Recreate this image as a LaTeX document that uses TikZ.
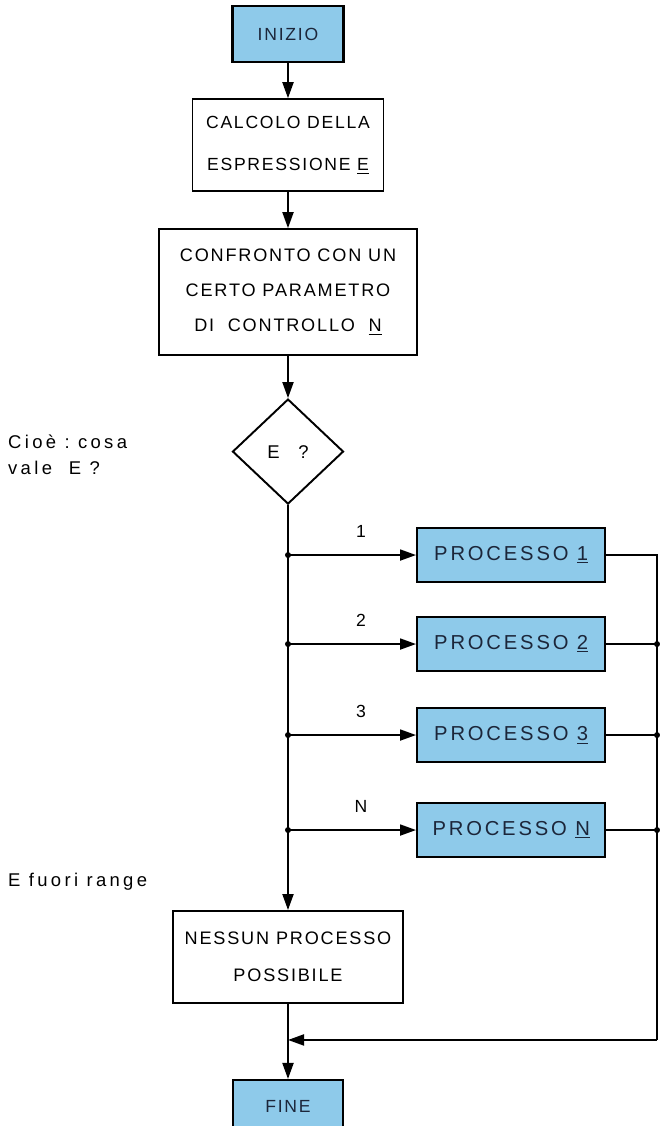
\documentclass[tikz,border=0pt]{standalone}
\usepackage{fontspec}
\setmainfont{Liberation Sans}
\newfontfamily\flowfont{Liberation Sans}[LetterSpace=10]
\newfontfamily\procfont{Liberation Sans}[LetterSpace=14]
\newfontfamily\notefont{Liberation Sans}[LetterSpace=18]
\usepackage{tikz}
\usetikzlibrary{shapes.geometric, arrows.meta, positioning, calc}
\definecolor{procblue}{RGB}{142,202,234}
\definecolor{inkblue}{RGB}{28,38,58}

\begin{document}
\begin{tikzpicture}[
    node distance=0.7cm and 1.2cm,
    box/.style={rectangle, draw=black, line width=1.1pt, fill=white, align=center, inner sep=2pt, font=\flowfont\fontsize{10}{20}\selectfont},
    termbox/.style={box, fill=procblue, text=inkblue, line width=1.4pt},
    procbox/.style={termbox, minimum width=3.76cm, minimum height=1.08cm, font=\procfont\fontsize{11.5}{13}\selectfont},
    testnode/.style={diamond, draw=black, line width=1.1pt, minimum width=2.22cm, minimum height=2.1cm, inner sep=0pt, font=\flowfont\fontsize{10.5}{12}\selectfont},
    line/.style={line width=1.1pt},
    arrow/.style={line, -{Triangle[length=3.2mm, width=2.2mm]}},
    caselabel/.style={font=\flowfont\fontsize{10}{12}\selectfont, above=6pt, pos=0.57},
    sidenote/.style={anchor=west, align=left, font=\notefont\fontsize{10.5}{15}\selectfont}
]

\useasboundingbox (0,0) rectangle (13.2,-22.52);

% main column
\node[termbox, minimum width=2.22cm, minimum height=1.12cm] (start) at (5.76,-0.68) {INIZIO};
\node[box, below=0.7cm of start, minimum width=3.82cm, minimum height=1.84cm, font=\flowfont\fontsize{10}{24}\selectfont] (calc) {CALCOLO DELLA\\ESPRESSIONE \underline{E}};
\node[box, below=0.72cm of calc, minimum width=5.16cm, minimum height=2.52cm, font=\flowfont\fontsize{10.3}{20}\selectfont] (conf) {CONFRONTO CON UN\\CERTO PARAMETRO\\DI\ \ CONTROLLO\ \ \underline{N}};
\node[testnode, below=0.84cm of conf] (test) {E\quad?\ };

% case junctions on the trunk
\coordinate[below=1cm of test.south] (j1);
\coordinate[below=1.78cm of j1] (j2);
\coordinate[below=1.82cm of j2] (j3);
\coordinate[below=1.9cm of j3] (jN);

% processes
\node[procbox, right=2.56cm of j1] (p1) {PROCESSO \underline{1}};
\node[procbox, right=2.56cm of j2] (p2) {PROCESSO \underline{2}};
\node[procbox, right=2.56cm of j3] (p3) {PROCESSO \underline{3}};
\node[procbox, right=2.56cm of jN] (pN) {PROCESSO \underline{N}};

\node[box, below=8.1cm of test, minimum width=4.6cm, minimum height=1.84cm, font=\flowfont\fontsize{10.3}{21}\selectfont] (ness) {NESSUN PROCESSO\\POSSIBILE};
\node[termbox, below=1.5cm of ness, minimum width=2.2cm, minimum height=1.04cm] (fine) {FINE};

\coordinate (bus) at (13.14,0);
\coordinate (back) at ($(ness.south)!0.48!(fine.north)$);

% side notes
\node[sidenote] (note) at (0.04,-9.1) {Cioè :\ cosa\\vale\ \ E ?};
\node[sidenote] (outrange) at (0.04,-17.64) {E fuori range};

% connectors
\draw[arrow] (start) -- (calc);
\draw[arrow] (calc) -- (conf);
\draw[arrow] (conf) -- (test);
\draw[line] (test.south) -- (jN);
\draw[arrow] (jN) -- (ness);
\draw[arrow] (ness) -- (fine);

\draw[arrow] (j1) -- node[caselabel] {1} (p1);
\draw[arrow] (j2) -- node[caselabel] {2} (p2);
\draw[arrow] (j3) -- node[caselabel] {3} (p3);
\draw[arrow] (jN) -- node[caselabel] {N} (pN);

\draw[line] (p1.east) -- (p1.east -| bus) -- (bus |- back);
\draw[line] (p2.east) -- (p2.east -| bus);
\draw[line] (p3.east) -- (p3.east -| bus);
\draw[line] (pN.east) -- (pN.east -| bus);
\draw[arrow] (bus |- back) -- (back);

% junction dots
\fill (j1) circle (0.06);
\fill (j2) circle (0.06);
\fill (j3) circle (0.06);
\fill (jN) circle (0.06);
\fill (p2.east -| bus) circle (0.06);
\fill (p3.east -| bus) circle (0.06);
\fill (pN.east -| bus) circle (0.06);

\end{tikzpicture}
\end{document}
